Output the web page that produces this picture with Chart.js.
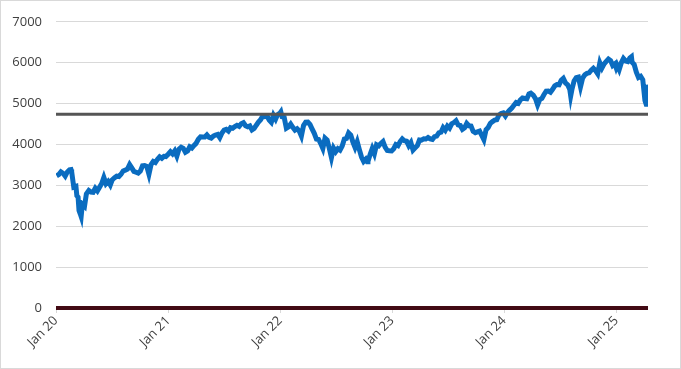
<!DOCTYPE html>
<html>
<head>
<meta charset="utf-8">
<script src="https://cdn.jsdelivr.net/npm/chart.js@4.4.1/dist/chart.umd.min.js"></script>
<style>
  body { margin: 0; background: #fff; }
  #wrap { position: absolute; left: 0; top: 0; width: 681px; height: 369px; }
</style>
</head>
<body>
<div id="wrap"><canvas id="chart" width="681" height="369"></canvas></div>
<script>
// weekly closes (plus a few daily extremes)
const dates = [
  '2020-01-03','2020-01-10','2020-01-17','2020-01-24','2020-01-31','2020-02-07','2020-02-14','2020-02-19','2020-02-21','2020-02-28',
  '2020-03-06','2020-03-09','2020-03-13','2020-03-16','2020-03-20','2020-03-23','2020-03-27','2020-04-03','2020-04-09','2020-04-17',
  '2020-04-24','2020-05-01','2020-05-08','2020-05-15','2020-05-22','2020-05-29','2020-06-05','2020-06-12','2020-06-19','2020-06-26',
  '2020-07-02','2020-07-10','2020-07-17','2020-07-24','2020-07-31','2020-08-07','2020-08-14','2020-08-21','2020-08-28','2020-09-04',
  '2020-09-11','2020-09-18','2020-09-25','2020-10-02','2020-10-09','2020-10-16','2020-10-23','2020-10-30','2020-11-06','2020-11-13',
  '2020-11-20','2020-11-27','2020-12-04','2020-12-11','2020-12-18','2020-12-24','2020-12-31',
  '2021-01-08','2021-01-15','2021-01-22','2021-01-29','2021-02-05','2021-02-12','2021-02-19','2021-02-26','2021-03-05','2021-03-12',
  '2021-03-19','2021-03-26','2021-04-01','2021-04-09','2021-04-16','2021-04-23','2021-04-30','2021-05-07','2021-05-14','2021-05-21',
  '2021-05-28','2021-06-04','2021-06-11','2021-06-18','2021-06-25','2021-07-02','2021-07-09','2021-07-16','2021-07-23','2021-07-30',
  '2021-08-06','2021-08-13','2021-08-20','2021-08-27','2021-09-03','2021-09-10','2021-09-17','2021-09-24','2021-10-01','2021-10-08',
  '2021-10-15','2021-10-22','2021-10-29','2021-11-05','2021-11-12','2021-11-19','2021-11-26','2021-12-03','2021-12-10','2021-12-17',
  '2021-12-23','2021-12-31',
  '2022-01-03','2022-01-07','2022-01-14','2022-01-21','2022-01-28','2022-02-04','2022-02-11','2022-02-18','2022-02-25','2022-03-04',
  '2022-03-11','2022-03-18','2022-03-25','2022-04-01','2022-04-08','2022-04-14','2022-04-22','2022-04-29','2022-05-06','2022-05-13',
  '2022-05-20','2022-05-27','2022-06-03','2022-06-10','2022-06-17','2022-06-24','2022-07-01','2022-07-08','2022-07-15','2022-07-22',
  '2022-07-29','2022-08-05','2022-08-12','2022-08-19','2022-08-26','2022-09-02','2022-09-09','2022-09-16','2022-09-23','2022-09-30',
  '2022-10-07','2022-10-12','2022-10-14','2022-10-21','2022-10-28','2022-11-04','2022-11-11','2022-11-18','2022-11-25','2022-12-02',
  '2022-12-09','2022-12-16','2022-12-23','2022-12-30',
  '2023-01-06','2023-01-13','2023-01-20','2023-01-27','2023-02-03','2023-02-10','2023-02-17','2023-02-24','2023-03-03','2023-03-10',
  '2023-03-17','2023-03-24','2023-03-31','2023-04-06','2023-04-14','2023-04-21','2023-04-28','2023-05-05','2023-05-12','2023-05-19',
  '2023-05-26','2023-06-02','2023-06-09','2023-06-16','2023-06-23','2023-06-30','2023-07-07','2023-07-14','2023-07-21','2023-07-28',
  '2023-08-04','2023-08-11','2023-08-18','2023-08-25','2023-09-01','2023-09-08','2023-09-15','2023-09-22','2023-09-29','2023-10-06',
  '2023-10-13','2023-10-20','2023-10-27','2023-11-03','2023-11-10','2023-11-17','2023-11-24','2023-12-01','2023-12-08','2023-12-15',
  '2023-12-22','2023-12-29',
  '2024-01-05','2024-01-12','2024-01-19','2024-01-26','2024-02-02','2024-02-09','2024-02-16','2024-02-23','2024-03-01','2024-03-08',
  '2024-03-15','2024-03-22','2024-03-28','2024-04-05','2024-04-12','2024-04-19','2024-04-26','2024-05-03','2024-05-10','2024-05-17',
  '2024-05-24','2024-05-31','2024-06-07','2024-06-14','2024-06-21','2024-06-28','2024-07-05','2024-07-12','2024-07-19','2024-07-26',
  '2024-08-02','2024-08-05','2024-08-09','2024-08-16','2024-08-23','2024-08-30','2024-09-06','2024-09-13','2024-09-20','2024-09-27',
  '2024-10-04','2024-10-11','2024-10-18','2024-10-25','2024-11-01','2024-11-08','2024-11-15','2024-11-22','2024-11-29','2024-12-06',
  '2024-12-13','2024-12-20','2024-12-27','2024-12-31',
  '2025-01-03','2025-01-10','2025-01-17','2025-01-24','2025-01-31','2025-02-07','2025-02-14','2025-02-19','2025-02-21','2025-02-28',
  '2025-03-07','2025-03-14','2025-03-21','2025-03-28','2025-04-04','2025-04-08','2025-04-09','2025-04-11','2025-04-14'
];
const closes = [
  3235, 3265, 3330, 3295, 3225, 3328, 3380, 3386, 3338, 2954,
  2972, 2746, 2711, 2386, 2305, 2237, 2541, 2489, 2790, 2875,
  2837, 2831, 2930, 2864, 2955, 3044, 3194, 3041, 3098, 3009,
  3130, 3185, 3225, 3216, 3271, 3351, 3373, 3397, 3508, 3427,
  3341, 3319, 3298, 3348, 3477, 3483, 3465, 3270, 3509, 3585,
  3557, 3638, 3699, 3663, 3709, 3703, 3756,
  3824, 3768, 3841, 3714, 3887, 3934, 3907, 3811, 3842, 3943,
  3913, 3975, 4020, 4129, 4185, 4180, 4181, 4233, 4174, 4156,
  4204, 4230, 4247, 4166, 4281, 4352, 4370, 4327, 4412, 4395,
  4437, 4468, 4442, 4509, 4535, 4459, 4433, 4455, 4357, 4391,
  4471, 4545, 4605, 4697, 4683, 4698, 4595, 4538, 4712, 4620,
  4725, 4766,
  4797, 4677, 4662, 4398, 4432, 4500, 4418, 4349, 4385, 4329,
  4204, 4463, 4543, 4546, 4488, 4393, 4272, 4132, 4123, 4024,
  3901, 4158, 4109, 3901, 3675, 3912, 3825, 3899, 3863, 3962,
  4130, 4145, 4280, 4228, 4058, 3924, 4067, 3873, 3693, 3586,
  3640, 3577, 3583, 3753, 3901, 3771, 3993, 3965, 4026, 4072,
  3934, 3852, 3845, 3840,
  3895, 3999, 3973, 4071, 4136, 4090, 4079, 3970, 4046, 3862,
  3917, 3971, 4109, 4105, 4138, 4133, 4169, 4136, 4124, 4192,
  4205, 4282, 4299, 4410, 4348, 4450, 4399, 4505, 4536, 4582,
  4478, 4464, 4370, 4406, 4515, 4457, 4450, 4320, 4288, 4308,
  4327, 4224, 4117, 4358, 4415, 4514, 4559, 4595, 4604, 4719,
  4755, 4770,
  4697, 4784, 4840, 4891, 4959, 5027, 5006, 5089, 5137, 5124,
  5117, 5234, 5254, 5204, 5123, 4967, 5100, 5128, 5223, 5303,
  5305, 5278, 5347, 5432, 5465, 5460, 5567, 5615, 5505, 5459,
  5346, 5186, 5344, 5554, 5635, 5648, 5408, 5626, 5703, 5738,
  5751, 5815, 5865, 5808, 5729, 5995, 5870, 5969, 6032, 6090,
  6051, 5931, 5971, 5882,
  5942, 5827, 5997, 6101, 6041, 6026, 6115, 6144, 6013, 5955,
  5770, 5639, 5668, 5581, 5074, 4982, 5457, 5363, 5406
];
const refLevel = 4740;
const yTicks = [0, 1000, 2000, 3000, 4000, 5000, 6000, 7000];
const xTickDates = ['2020-01-01', '2021-01-01', '2022-01-01', '2023-01-01', '2024-01-01', '2025-01-01'];
const xTickLabels = ['Jan 20', 'Jan 21', 'Jan 22', 'Jan 23', 'Jan 24', 'Jan 25'];

const day0 = Date.UTC(2020, 0, 1);
function dayNum(s) {
  const p = s.split('-').map(Number);
  return (Date.UTC(p[0], p[1] - 1, p[2]) - day0) / 86400000;
}

const points = dates.map((d, i) => ({ x: dayNum(d), y: closes[i] }));
const xMin = 0;
const xMax = dayNum(dates[dates.length - 1]);
const xTickPos = xTickDates.map(dayNum);

const frame = {
  id: 'frame',
  afterDraw(chart) {
    const c = chart.ctx;
    c.save();
    c.strokeStyle = '#d9d9d9';
    c.lineWidth = 1;
    c.strokeRect(0.5, 0.5, chart.width - 1, chart.height - 1);
    c.restore();
  }
};

new Chart(document.getElementById('chart').getContext('2d'), {
  type: 'line',
  data: {
    datasets: [
      {
        data: [{ x: xMin, y: 0 }, { x: xMax, y: 0 }],
        borderColor: '#420a14',
        borderWidth: 4,
        pointRadius: 0,
        clip: 4
      },
      {
        data: [{ x: xMin, y: refLevel }, { x: xMax, y: refLevel }],
        borderColor: '#555555',
        borderWidth: 3,
        pointRadius: 0
      },
      {
        data: points,
        borderColor: '#0a6cc0',
        borderWidth: 5,
        pointRadius: 0,
        tension: 0
      }
    ]
  },
  options: {
    responsive: false,
    animation: false,
    layout: { padding: { left: 0, right: 33, top: 19, bottom: 0 } },
    plugins: {
      legend: { display: false },
      tooltip: { enabled: false }
    },
    scales: {
      x: {
        type: 'linear',
        min: xMin,
        max: xMax,
        afterBuildTicks(scale) {
          scale.ticks = xTickPos.map(v => ({ value: v }));
        },
        afterFit(scale) { scale.height = 61; },
        border: { display: false },
        grid: { drawOnChartArea: false, color: '#d9d9d9', tickLength: 5 },
        ticks: {
          autoSkip: false,
          minRotation: 45,
          maxRotation: 45,
          padding: 0,
          color: '#404040',
          font: { family: 'Open Sans', size: 13 },
          callback: (v) => xTickLabels[xTickPos.indexOf(v)]
        }
      },
      y: {
        min: 0,
        max: 7000,
        afterBuildTicks(scale) {
          scale.ticks = yTicks.map(v => ({ value: v }));
        },
        afterFit(scale) { scale.width = 56; },
        border: { display: false },
        grid: { color: '#d9d9d9', drawTicks: false },
        ticks: {
          padding: 14,
          color: '#404040',
          font: { family: 'Open Sans', size: 13 },
          callback: (v) => String(v)
        }
      }
    }
  },
  plugins: [frame]
});
</script>
</body>
</html>
